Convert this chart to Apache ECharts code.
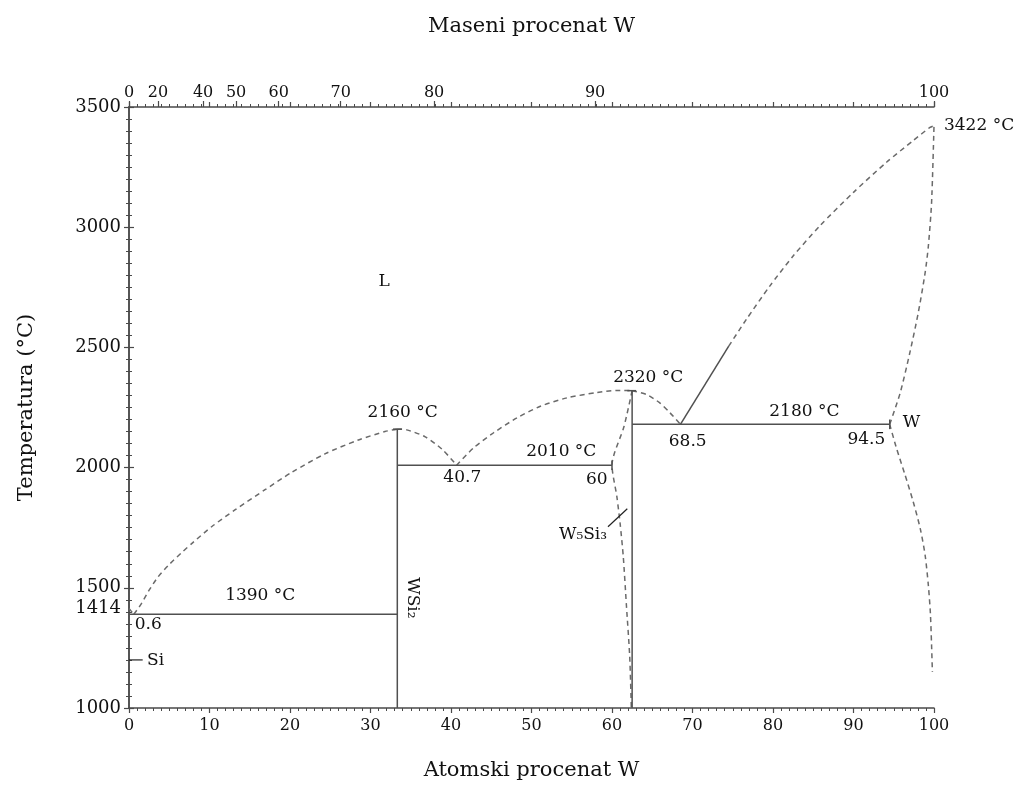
<!DOCTYPE html>
<html>
<head>
<meta charset="utf-8">
<script src="https://cdn.jsdelivr.net/npm/echarts/dist/echarts.min.js"></script>
<style>
html,body{margin:0;padding:0;background:#fff;}
#chart{width:1021px;height:786px;}
</style>
</head>
<body>
<div id="chart"></div>
<script>
// ---------- data (at% W, temperature °C) ----------
const liqSi = [[0,1414],[0.6,1390]];
const liqWSi2Left = [[0.6,1390],[1.5,1432],[2.5,1490],[3.6,1545],[5.0,1597],[6.5,1645],[8.0,1690],[10.3,1755],[13.2,1825],[16.9,1908],[20.2,1980],[24.4,2058],[28.5,2115],[31.8,2150],[33.3,2160]];
const liqWSi2Right = [[33.3,2160],[34.5,2157],[36.8,2128],[38.9,2076],[40.7,2010]];
const liqW5Si3Left = [[40.7,2010],[42.8,2082],[45.3,2145],[48.2,2207],[51.1,2255],[54.4,2290],[58.1,2312],[60.5,2321],[62.5,2320]];
const liqW5Si3Right = [[62.5,2320],[64.3,2304],[65.9,2270],[67.2,2228],[68.5,2180]];
const liqWSolidPart = [[68.5,2180],[74.5,2505]];
const liqW = [[74.5,2505],[76.7,2617],[79.6,2755],[82.5,2880],[85.8,3005],[90.0,3145],[94.1,3270],[97.4,3360],[99.5,3415],[100,3422]];
const solidusW = [[94.5,2180],[95.8,2311],[97.0,2478],[98.05,2645],[98.9,2811],[99.3,2922],[99.7,3103],[100,3422]];
const solvusW = [[94.5,2180],[95.3,2085],[96.4,1970],[97.4,1860],[98.3,1745],[98.9,1635],[99.3,1510],[99.55,1395],[99.7,1260],[99.8,1150]];
const w5si3Boundary = [[62.5,2320],[61.5,2172],[60.0,2010],[60.6,1880],[61.0,1770],[61.4,1630],[61.8,1422],[62.2,1214],[62.4,1000]];

const eut1390 = [[0,1390],[33.33,1390]];
const wsi2Line = [[33.33,1000],[33.33,2160]];
const eut2010 = [[33.33,2010],[60,2010]];
const w5si3Line = [[62.5,1000],[62.5,2320]];
const eut2180 = [[62.5,2180],[94.5,2180]];
const capWSi2 = [[32.8,2160],[33.9,2160]];
const capW5Si3 = [[61.9,2320],[63.0,2320]];
const cap60 = [[60,1990],[60,2030]];
const cap945 = [[94.5,2160],[94.5,2200]];
const siLeader = [[0,1200],[1.7,1200]];
const w5si3Leader = [[59.5,1754],[61.9,1829]];

// annotations
const annText = ['L','2160 °C','40.7','2010 °C','60','2320 °C','68.5','2180 °C','94.5','W','3422 °C','1390 °C','0.6','Si','W₅Si₃'];
const annX    = [31.7, 34.0, 41.4, 53.7, 58.1, 64.5, 69.4, 83.9, 91.6, 97.2, 105.6, 16.3, 2.4, 3.3, 56.4];
const annT    = [2775, 2229, 1958, 2067, 1950, 2375, 2108, 2233, 2117, 2187, 3421, 1467, 1346, 1196, 1721];
const rotText = ['WSi₂'];
const rotX = [35.2];
const rotT = [1458];

// axis tick labels
const topPos = [0, 3.6, 9.2, 13.3, 18.6, 26.3, 37.9, 57.9, 100];
const topLabels = ['0','20','40','50','60','70','80','90','100'];
const leftLabels = [1000,1414,1500,2000,2500,3000,3500];

// ---------- chart ----------
const FONT = 'DejaVu Serif';
const TXT = '#111';
const AX = '#4a4a4a';
const chart = echarts.init(document.getElementById('chart'));

function line(data, dashed, color, width) {
  return {
    type: 'line', data: data, showSymbol: false, symbol: 'none', silent: true,
    smooth: dashed ? 0.25 : false, animation: false,
    lineStyle: { color: color || (dashed ? '#6a6a6a' : '#505050'), width: width || 1.5, type: dashed ? [5,4] : 'solid' },
    clip: false, z: 3
  };
}

const tickBase = {
  axisLine: { show: true, lineStyle: { color: AX, width: 1.5 } },
  axisTick: { show: true, length: 5, lineStyle: { color: AX, width: 1.2 } },
  minorTick: { show: true, splitNumber: 10, length: 3, lineStyle: { color: AX, width: 1 } },
  splitLine: { show: false }
};

const annLabel = { show: true, position: 'inside', fontSize: 17, color: TXT, fontFamily: FONT,
  textBorderWidth: 0, textBorderColor: 'transparent', opacity: 1 };

const option = {
  animation: false,
  backgroundColor: '#fff',
  grid: { left: 129, right: 87, top: 107, bottom: 78, containLabel: false },
  xAxis: [
    Object.assign({
      type: 'value', min: 0, max: 100, interval: 10, position: 'bottom',
      axisLabel: { fontSize: 16, color: TXT, fontFamily: FONT, margin: 10 },
      name: 'Atomski procenat W', nameLocation: 'middle', nameGap: 52,
      nameTextStyle: { fontSize: 21, color: TXT, fontFamily: FONT }
    }, tickBase),
    Object.assign({
      type: 'value', min: 0, max: 100, interval: 10, position: 'top',
      axisLabel: { show: false }
    }, tickBase),
    {
      type: 'value', min: 0, max: 100, position: 'top',
      axisLine: { show: false },
      axisTick: { show: true, length: 6, customValues: topPos, lineStyle: { color: AX, width: 1.2 } },
      axisLabel: { show: true, customValues: topPos, fontSize: 16, color: TXT, fontFamily: FONT, margin: 6,
        formatter: function (v) {
          let best = 0;
          for (let i = 0; i < topPos.length; i++) if (Math.abs(topPos[i]-v) < Math.abs(topPos[best]-v)) best = i;
          return topLabels[best];
        } },
      splitLine: { show: false },
      name: 'Maseni procenat W', nameLocation: 'middle', nameGap: 70,
      nameTextStyle: { fontSize: 21, color: TXT, fontFamily: FONT }
    }
  ],
  yAxis: [
    Object.assign({
      type: 'value', min: 1000, max: 3500, interval: 500, position: 'left',
      axisLabel: { customValues: leftLabels, fontSize: 18, color: TXT, fontFamily: FONT, margin: 8,
        formatter: function (v) { return String(Math.round(v)); } },
      name: 'Temperatura (°C)', nameLocation: 'middle', nameGap: 92, nameRotate: 90,
      nameTextStyle: { fontSize: 21, color: TXT, fontFamily: FONT }
    }, tickBase),
    Object.assign({
      type: 'value', min: 1000, max: 3500, interval: 500, position: 'right',
      axisLabel: { show: false }
    }, tickBase)
  ],
  series: [
    line(liqSi, true),
    line(liqWSi2Left, true),
    line(liqWSi2Right, true),
    line(liqW5Si3Left, true),
    line(liqW5Si3Right, true),
    line(liqWSolidPart, false, '#505050', 1.5),
    line(liqW, true),
    line(solidusW, true),
    line(solvusW, true),
    line(w5si3Boundary, true),
    line(eut1390, false),
    line(wsi2Line, false),
    line(eut2010, false),
    line(w5si3Line, false),
    line(eut2180, false),
    line(capWSi2, false),
    line(capW5Si3, false),
    line(cap60, false),
    line(cap945, false),
    line(siLeader, false, '#222', 1.2),
    line(w5si3Leader, false, '#222', 1.2),
    {
      type: 'scatter', symbolSize: 0, silent: true, clip: false, z: 5,
      itemStyle: { opacity: 1, color: TXT },
      data: annText.map((t, i) => ({ value: [annX[i], annT[i]], label: Object.assign({}, annLabel, { formatter: t }) })),
      label: annLabel
    },
    {
      type: 'scatter', symbolSize: 0, silent: true, clip: false, z: 5,
      itemStyle: { opacity: 1, color: TXT },
      data: rotText.map((t, i) => ({ value: [rotX[i], rotT[i]], label: Object.assign({}, annLabel, { formatter: t, rotate: -90 }) })),
      label: Object.assign({}, annLabel, { rotate: -90 })
    }
  ]
};
chart.setOption(option);
</script>
</body>
</html>
